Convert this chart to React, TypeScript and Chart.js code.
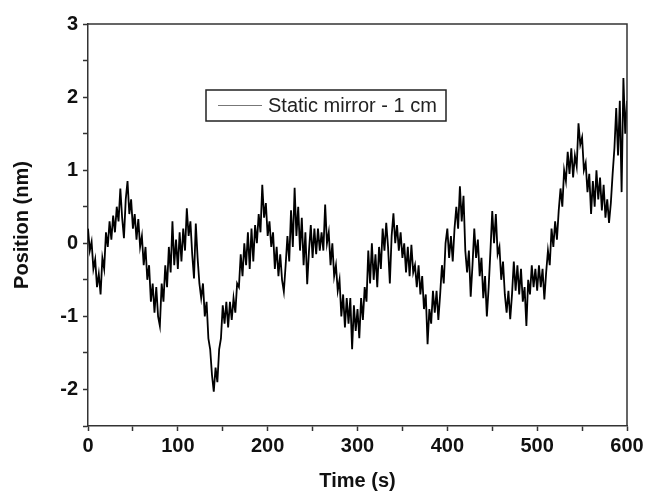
import React, { useEffect, useRef } from "react";
import { Chart, registerables } from "chart.js";

Chart.register(...registerables);

// Sampling interval of the trace (seconds)
const SAMPLE_STEP_S = 2;

// Position (nm), one value every 2 s from t = 0 to 600 s
const positionNm: number[] = [
  0.2, -0.1, 0.02, -0.35, -0.22, -0.6, -0.42, -0.7, -0.2, -0.35,
  0.15, -0.05, 0.3, 0.05, 0.38, 0.15, 0.5, 0.3, 0.75, 0.35,
  0.07, 0.6, 0.85, 0.4, 0.6, 0.2, 0.4, 0.05, 0.33, -0.05,
  0.1, -0.3, -0.05, -0.5, -0.3, -0.8, -0.55, -0.95, -0.6, -1.0,
  -1.13, -0.55, -0.8, -0.3, -0.6, -0.05, -0.4, 0.3, -0.3, 0.05,
  -0.35, 0.15, -0.25, 0.2, -0.1, 0.48, 0.1, 0.3, -0.15, -0.48,
  0.27, -0.2, -0.55, -0.75, -0.55, -1.0, -0.8, -1.3, -1.45, -1.8,
  -2.03, -1.7, -1.9, -1.45, -1.3, -0.85, -1.1, -0.8, -1.15, -0.8,
  -1.05, -0.75, -0.95, -0.55, -0.6, -0.15, -0.45, 0.0, -0.3, 0.15,
  -0.35, 0.2, -0.25, 0.25, 0.0, 0.4, 0.15, 0.8, 0.35, 0.55,
  0.1, 0.3, -0.05, 0.15, -0.35, -0.05, -0.45, -0.15, -0.5, -0.66,
  -0.3, 0.1, -0.25, 0.45, -0.05, 0.76, 0.1, 0.5, -0.1, 0.35,
  -0.3, 0.15, -0.56, -0.1, 0.25, -0.2, 0.2, -0.15, 0.2, -0.1,
  0.15, -0.1, 0.53, 0.0, 0.15, -0.3, 0.0, -0.45, -0.3, -0.65,
  -0.5, -1.0, -0.7, -1.15, -0.75, -1.1, -0.75, -1.45, -0.85, -1.2,
  -0.9, -1.3, -0.75, -1.05, -0.6, -0.8, -0.1, -0.55, 0.0, -0.5,
  -0.15, -0.6, -0.05, -0.35, 0.2, -0.1, 0.28, -0.05, -0.55, 0.1,
  0.41, 0.0, 0.25, -0.1, 0.15, -0.2, 0.0, -0.4, -0.05, -0.45,
  -0.02, -0.4, -0.3, -0.6, -0.3, -0.7, -0.45, -0.9, -0.7, -1.38,
  -0.9, -1.1, -0.65, -0.95, -0.65, -1.05, -0.7, -0.3, -0.55, 0.0,
  0.2, -0.2, 0.1, -0.25, 0.2, 0.5, 0.2, 0.78, 0.3, 0.65,
  -0.1, -0.4, -0.1, -0.73, -0.3, 0.2, -0.2, 0.05, -0.45, -0.2,
  -0.75, -0.45, -1.0, -0.6, -0.1, 0.44, 0.0, 0.4, -0.15, -0.05,
  -0.5, -0.25, -0.7, -0.95, -0.65, -1.04, -0.7, -0.25, -0.65, -0.3,
  -0.7, -0.35, -0.8, -0.6, -1.13, -0.5, -0.7, -0.3, -0.6, -0.35,
  -0.65, -0.3, -0.6, -0.35, -0.77, -0.4, -0.1, -0.3, 0.2, -0.05,
  0.3, 0.05, 0.45, 0.75, 0.5, 1.0, 0.85, 1.25, 0.95, 1.3,
  0.9, 1.2, 1.05, 1.64, 1.35, 1.45, 1.0, 1.1, 0.7, 0.95,
  0.4, 0.85, 0.5, 1.0, 0.6, 0.9, 0.45, 0.8, 0.35, 0.6,
  0.28, 0.55, 0.95, 1.3, 1.85, 1.2, 1.95, 0.7, 2.26, 1.5,
  1.95,
];

const timeS: number[] = positionNm.map((_, i) => i * SAMPLE_STEP_S);

const seriesLabel = "Static mirror - 1 cm";
const xTitle = "Time (s)";
const yTitle = "Position (nm)";
const xMin = 0;
const xMax = 600;
const yMin = -2.5;
const yMax = 3;

const AXIS_FONT = "'Liberation Sans', Arial, sans-serif";

const framePlugin = {
  id: "frameAndLegend",
  afterDraw(chart: any) {
    const { ctx, chartArea } = chart;
    const { left, right, top, bottom } = chartArea;
    ctx.save();
    ctx.strokeStyle = "#333";
    ctx.lineWidth = 1.5;
    ctx.beginPath();
    ctx.moveTo(left, top);
    ctx.lineTo(right, top);
    ctx.lineTo(right, bottom);
    ctx.stroke();

    // legend box
    const bx = 206, by = 90, bw = 240, bh = 31;
    ctx.lineWidth = 1.5;
    ctx.strokeStyle = "#222";
    ctx.fillStyle = "#fff";
    ctx.fillRect(bx, by, bw, bh);
    ctx.strokeRect(bx, by, bw, bh);
    ctx.strokeStyle = "#777";
    ctx.lineWidth = 1;
    ctx.beginPath();
    ctx.moveTo(218, by + bh / 2);
    ctx.lineTo(262, by + bh / 2);
    ctx.stroke();
    ctx.fillStyle = "#222";
    ctx.font = "20px 'Liberation Sans', Arial, sans-serif";
    ctx.textBaseline = "middle";
    ctx.textAlign = "left";
    ctx.fillText(chart.data.datasets[0].label, 268, by + bh / 2 + 1);
    ctx.restore();
  },
};

export default function App() {
  const ref = useRef<HTMLCanvasElement | null>(null);

  useEffect(() => {
    if (!ref.current) return;
    const chart = new Chart(ref.current, {
      type: "line",
      data: {
        datasets: [
          {
            label: seriesLabel,
            data: timeS.map((t, i) => ({ x: t, y: positionNm[i] })),
            borderColor: "#000",
            borderWidth: 1.8,
            pointRadius: 0,
            tension: 0,
            fill: false,
          },
        ],
      },
      options: {
        animation: false,
        responsive: false,
        maintainAspectRatio: false,
        layout: { padding: { left: 0, right: 28, top: 24, bottom: 0 } },
        plugins: {
          legend: { display: false },
          tooltip: { enabled: false },
        },
        scales: {
          x: {
            type: "linear",
            min: xMin,
            max: xMax,
            afterFit: (s: any) => {
              s.height = 70;
            },
            ticks: {
              stepSize: 50,
              autoSkip: false,
              maxRotation: 0,
              padding: 3,
              color: "#111",
              font: { family: AXIS_FONT, size: 20, weight: "bold" },
              callback: (v: any) => (Number(v) % 100 === 0 ? String(v) : ""),
            },
            grid: {
              display: true,
              drawOnChartArea: false,
              drawTicks: true,
              tickLength: 5,
              tickColor: "#333",
              tickWidth: 1.5,
            },
            border: { display: true, color: "#333", width: 1.5 },
            title: {
              display: true,
              text: xTitle,
              color: "#111",
              font: { family: AXIS_FONT, size: 20, weight: "bold" },
              padding: { top: 0, bottom: 3 },
            },
          },
          y: {
            type: "linear",
            min: yMin,
            max: yMax,
            afterFit: (s: any) => {
              s.width = 88;
            },
            ticks: {
              stepSize: 0.5,
              autoSkip: false,
              padding: 5,
              color: "#111",
              font: { family: AXIS_FONT, size: 20, weight: "bold" },
              callback: (v: any) => {
                const n = Number(v);
                return Math.abs(n - Math.round(n)) < 1e-6 ? String(Math.round(n)) : "";
              },
            },
            grid: {
              display: true,
              drawOnChartArea: false,
              drawTicks: true,
              tickLength: 5,
              tickColor: "#333",
              tickWidth: 1.5,
            },
            border: { display: true, color: "#333", width: 1.5 },
            title: {
              display: true,
              text: yTitle,
              color: "#111",
              font: { family: AXIS_FONT, size: 20, weight: "bold" },
              padding: { top: 10, bottom: 0 },
            },
          },
        },
      },
      plugins: [framePlugin],
    });
    return () => chart.destroy();
  }, []);

  return (
    <div style={{ position: "fixed", left: 0, top: 0, width: 655, height: 496, background: "#fff" }}>
      <canvas ref={ref} width={655} height={496} style={{ width: 655, height: 496 }} />
    </div>
  );
}
